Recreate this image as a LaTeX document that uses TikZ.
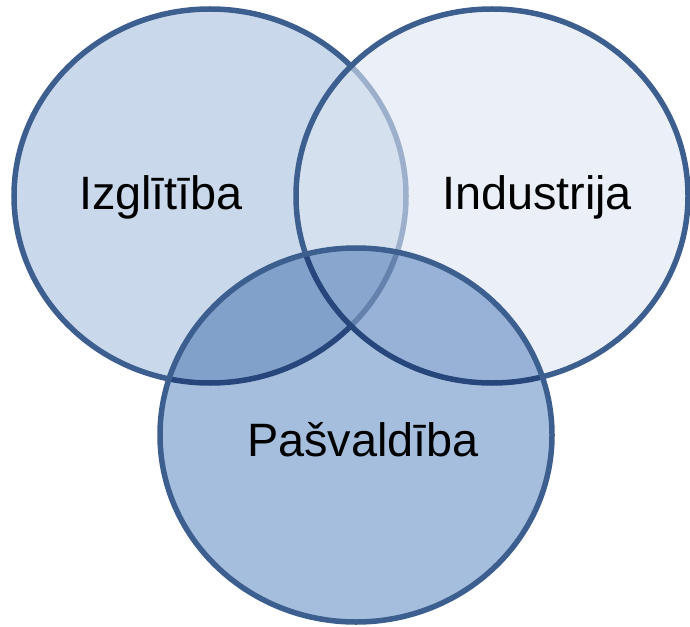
\documentclass[tikz,border=0pt]{standalone}
\usepackage{fontspec}
\setmainfont{Liberation Sans}
\usepackage{tikz}
\usetikzlibrary{positioning, shapes.geometric}
\definecolor{ringblue}{RGB}{61, 95, 143}
\definecolor{fillleft}{RGB}{201, 216, 235}
\definecolor{fillright}{RGB}{222, 230, 243}
\definecolor{fillbottom}{RGB}{155, 183, 217}

\begin{document}
\begin{tikzpicture}[x=1bp, y=-1bp,
        ringfill/.style={ellipse, minimum width=392bp, minimum height=374bp, inner sep=0pt},
        ring/.style={ringfill, draw=ringblue, line width=5.5bp},
        vennlabel/.style={font=\fontsize{47}{56}\selectfont, inner sep=0pt}]
        \useasboundingbox (0,0) rectangle (690,627);
        % left and right circles
        \node[ring, fill=fillleft] (edu) at (210,196) {};
        \node[ring, fill=fillright, fill opacity=0.6] (ind) at (492,196) {};
        % bottom circle, fill multiplied over the others
        \begin{scope}[blend mode=multiply]
            \node[ringfill, fill=fillbottom, fill opacity=0.9] (govfill) at (356,435) {};
        \end{scope}
        \node[ring] (gov) at (356,435) {};
        % labels
        \node[vennlabel] (edulabel) at (161,197) {Izglītība};
        \node[vennlabel] (indlabel) at (537,197) {Industrija};
        \node[vennlabel] (govlabel) at (363,440) {Pašvaldība};
    \end{tikzpicture}
\end{document}
